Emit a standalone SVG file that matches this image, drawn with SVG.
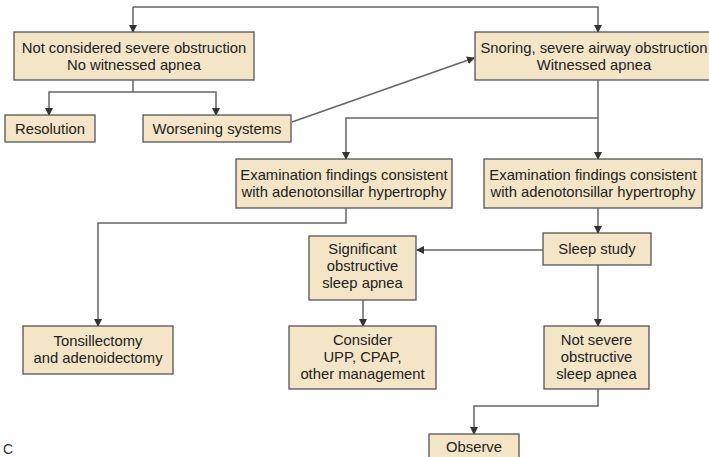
<svg xmlns="http://www.w3.org/2000/svg" width="709" height="457" viewBox="0 0 709 457">
<defs>
<marker id="ah" markerWidth="8" markerHeight="8" refX="7" refY="4" orient="auto" markerUnits="userSpaceOnUse">
<path d="M0,0 L8,4 L0,8 Z" fill="#333"/>
</marker>
<style>
.box{fill:#f3e5c6;stroke:#555;stroke-width:1.3}
.t{font-family:"Liberation Sans",Arial,sans-serif;font-size:14.8px;fill:#222;text-anchor:middle}
.c{fill:none;stroke:#666;stroke-width:1.5;marker-end:url(#ah)}
</style>
</defs>
<rect width="709" height="457" fill="#fff"/>
<g id="connectors">
<path class="c" d="M133,7 H598 V32"/>
<path class="c" d="M133,7 V32"/>
<path class="c" d="M133,80 V92 H49 V115"/>
<path class="c" d="M133,92 H216 V115"/>
<path class="c" d="M292,122 L474,58"/>
<path class="c" d="M598,80 V159"/>
<path class="c" d="M598,118 H346 V159"/>
<path class="c" d="M346,208 V223 H98 V326"/>
<path class="c" d="M598,208 V233"/>
<path class="c" d="M543,250 H417"/>
<path class="c" d="M363,300 V326"/>
<path class="c" d="M598,265 V326"/>
<path class="c" d="M598,389 V406 H474 V434"/>
</g>
<g id="n1"><rect class="box" x="14" y="32" width="240" height="48"/>
<text class="t" x="134" y="52.5">Not considered severe obstruction</text>
<text class="t" x="134" y="69.5">No witnessed apnea</text></g>
<g id="n2"><rect class="box" x="475" y="32" width="240" height="48"/>
<text class="t" x="594" y="52.5">Snoring, severe airway obstruction</text>
<text class="t" x="594" y="69.5">Witnessed apnea</text></g>
<g id="n3"><rect class="box" x="5" y="115" width="90" height="27"/>
<text class="t" x="50" y="133.5">Resolution</text></g>
<g id="n4"><rect class="box" x="143" y="115" width="148" height="27"/>
<text class="t" x="217" y="133.5">Worsening systems</text></g>
<g id="n5"><rect class="box" x="236" y="159" width="216" height="49"/>
<text class="t" x="344" y="180">Examination findings consistent</text>
<text class="t" x="344" y="197">with adenotonsillar hypertrophy</text></g>
<g id="n6"><rect class="box" x="484" y="159" width="218" height="49"/>
<text class="t" x="593" y="180">Examination findings consistent</text>
<text class="t" x="593" y="197">with adenotonsillar hypertrophy</text></g>
<g id="n7"><rect class="box" x="543" y="233" width="108" height="32"/>
<text class="t" x="597" y="254">Sleep study</text></g>
<g id="n8"><rect class="box" x="309" y="236" width="107" height="64"/>
<text class="t" x="362.5" y="254">Significant</text>
<text class="t" x="362.5" y="271">obstructive</text>
<text class="t" x="362.5" y="288">sleep apnea</text></g>
<g id="n9"><rect class="box" x="23" y="326" width="150" height="48"/>
<text class="t" x="98" y="346">Tonsillectomy</text>
<text class="t" x="98" y="363">and adenoidectomy</text></g>
<g id="n10"><rect class="box" x="289" y="326" width="147" height="63"/>
<text class="t" x="362.5" y="345">Consider</text>
<text class="t" x="362.5" y="362">UPP, CPAP,</text>
<text class="t" x="362.5" y="379">other management</text></g>
<g id="n11"><rect class="box" x="544" y="326" width="105" height="63"/>
<text class="t" x="596.5" y="345">Not severe</text>
<text class="t" x="596.5" y="362">obstructive</text>
<text class="t" x="596.5" y="379">sleep apnea</text></g>
<g id="n12"><rect class="box" x="429" y="434" width="90" height="30"/>
<text class="t" x="474" y="452">Observe</text></g>
<text x="3" y="454" font-family="Liberation Sans, Arial, sans-serif" font-size="14" fill="#333">C</text>
</svg>
